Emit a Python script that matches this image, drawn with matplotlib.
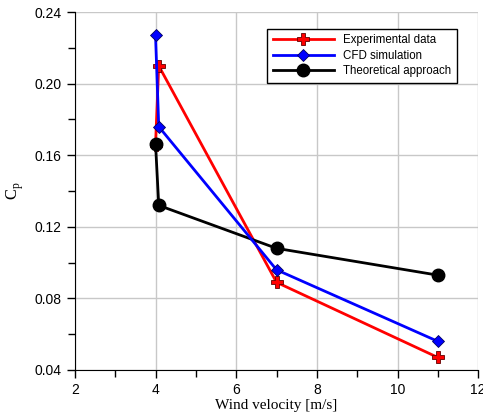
import matplotlib
matplotlib.use('Agg')
import matplotlib.pyplot as plt
from matplotlib.ticker import MultipleLocator

# wind velocity [m/s] and power coefficient for each approach
exp_v = [4.0, 4.08, 7.0, 11.0]
exp_cp = [0.166, 0.210, 0.089, 0.047]
cfd_v = [4.0, 4.08, 7.0, 11.0]
cfd_cp = [0.227, 0.176, 0.096, 0.056]
theo_v = [4.0, 4.08, 7.0, 11.0]
theo_cp = [0.1665, 0.132, 0.108, 0.093]

fig = plt.figure(figsize=(4.83, 4.19), dpi=100)
ax = fig.add_axes([0.155, 0.117, 0.835, 0.854])

ax.plot(exp_v, exp_cp, color='red', lw=2, marker='P', ms=8,
        mfc='red', mec='#600000', mew=0.6, label='Experimental data', zorder=3)
ax.plot(cfd_v, cfd_cp, color='blue', lw=2, marker='D', ms=6,
        mfc='blue', mec='#000060', mew=0.6, label='CFD simulation', zorder=5)
ax.plot(theo_v, theo_cp, color='black', lw=2, marker='o', ms=9,
        label='Theoretical approach', zorder=4)

ax.set_xlim(2, 12)
ax.set_ylim(0.04, 0.24)
ax.xaxis.set_major_locator(MultipleLocator(2))
ax.xaxis.set_minor_locator(MultipleLocator(1))
ax.yaxis.set_major_locator(MultipleLocator(0.04))
ax.yaxis.set_minor_locator(MultipleLocator(0.02))
ax.set_yticklabels(['%.2f' % v for v in ax.get_yticks()])
ax.grid(True, which='major', color='#c8c8c8', lw=1)
ax.set_axisbelow(True)

for s in ['top', 'right']:
    ax.spines[s].set_visible(False)
ax.tick_params(which='both', direction='out', labelsize=10, width=1)
ax.tick_params(which='major', length=6)
ax.tick_params(which='minor', length=5)
for lab in ax.get_xticklabels() + ax.get_yticklabels():
    lab.set_family('Liberation Sans')

ax.set_xlabel('Wind velocity [m/s]', family='Liberation Serif', fontsize=11, labelpad=1)
ax.set_ylabel(r'C$_\mathregular{p}$', family='Liberation Serif', fontsize=12, labelpad=6)

leg = ax.legend(loc='upper right', bbox_to_anchor=(0.962, 0.97), fancybox=False,
                framealpha=1, edgecolor='black', handlelength=5.3,
                prop={'family': 'Liberation Sans', 'size': 8.3},
                borderpad=0.5, labelspacing=0.3, handletextpad=0.8)
leg.get_frame().set_linewidth(1)

fig.savefig('out.png', dpi=100)
